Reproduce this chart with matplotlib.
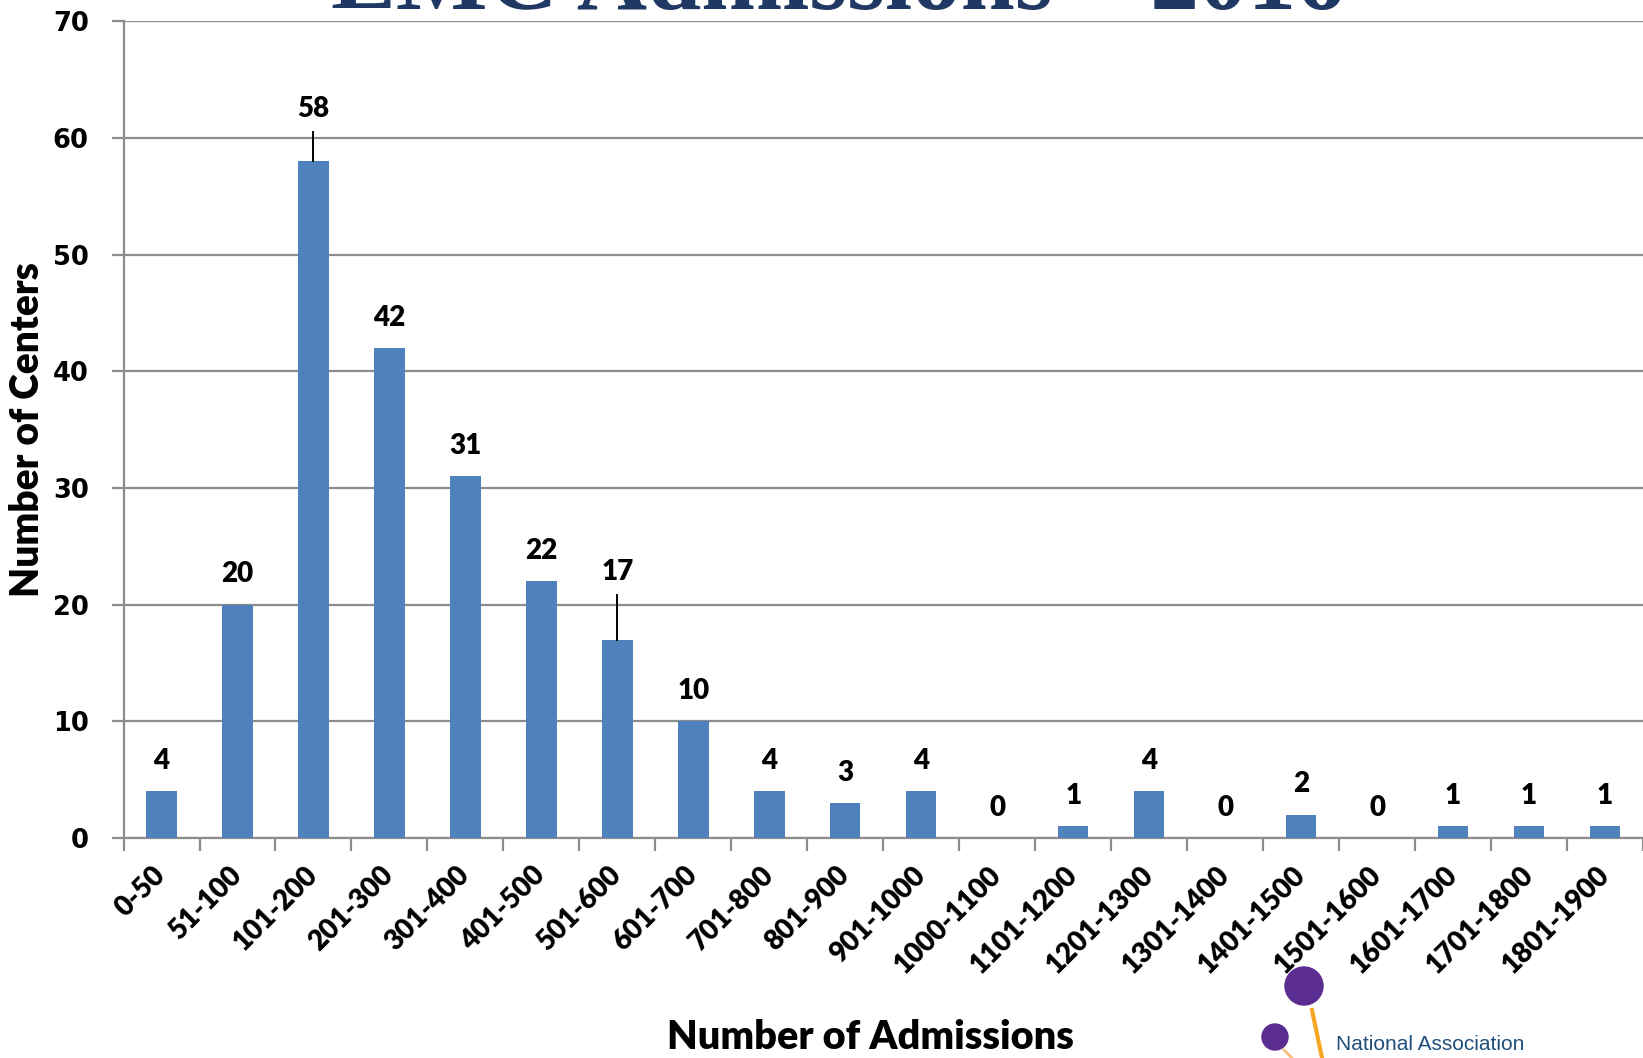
import numpy as np
import matplotlib.pyplot as plt
from matplotlib.patches import Ellipse
from matplotlib.lines import Line2D

# ranges of admissions per center
categories = ["0-50", "51-100", "101-200", "201-300", "301-400", "401-500",
              "501-600", "601-700", "701-800", "801-900", "901-1000", "1000-1100",
              "1101-1200", "1201-1300", "1301-1400", "1401-1500", "1501-1600",
              "1601-1700", "1701-1800", "1801-1900"]
centers = [4, 20, 58, 42, 31, 22, 17, 10, 4, 3, 4, 0, 1, 4, 0, 2, 0, 1, 1, 1]
# labels that were dragged up with a leader line: index -> label height
moved_labels = {2: 62.5, 6: 22.8}

BAR = "#4F81BD"
GRID = "#8C8C8C"
W, H = 1643, 1058

fig = plt.figure(figsize=(W / 100, H / 100), dpi=100)
ax = fig.add_axes([0.0752, 0.208, 0.9248, 0.772])

x = np.arange(len(categories))
ax.bar(x, centers, width=0.4, color=BAR, zorder=3)

ax.set_xlim(-0.5, len(categories) - 0.5)
ax.set_ylim(0, 70)
ax.set_yticks(range(0, 71, 10))
ax.yaxis.grid(True, color=GRID, linewidth=1.6, zorder=0)

# x ticks sit on the category boundaries, labels under the bars
ax.set_xticks(np.arange(-0.5, len(categories), 1.0))
ax.set_xticklabels([])
ax.set_xticks(x, minor=True)
ax.set_xticklabels(categories, minor=True, rotation=45, ha="right",
                   va="center", rotation_mode="anchor", fontsize=20,
                   fontweight="heavy", family="Lato")
ax.tick_params(axis="x", which="minor", length=0, pad=24)
ax.tick_params(axis="x", which="major", length=9, width=1.6, color=GRID)
ax.tick_params(axis="y", length=9, width=1.6, color=GRID, pad=16)
for lab in ax.get_yticklabels():
    lab.set_fontweight("bold")
    lab.set_fontsize(18.5)
    lab.set_family("DejaVu Sans")

for s in ["top", "right"]:
    ax.spines[s].set_visible(False)
for s in ["left", "bottom"]:
    ax.spines[s].set_color(GRID)
    ax.spines[s].set_linewidth(1.6)

# value labels
for i, v in enumerate(centers):
    if i in moved_labels:
        ly = moved_labels[i]
        ax.text(i, ly, str(v), ha="center", va="center", fontsize=20,
                fontweight="heavy", family="Lato", zorder=4)
        ax.plot([i, i], [v, ly - 2.0], color="black", linewidth=1.4, zorder=4)
    else:
        ax.text(i, v + 2.6, str(v), ha="center", va="center", fontsize=20,
                fontweight="heavy", family="Lato", zorder=4)

ax.set_ylabel("Number of Centers", fontsize=28, fontweight="heavy",
              family="Lato")
ax.yaxis.set_label_coords(-0.051, 0.5)
fig.text(0.53, 0.019, "Number of Admissions", ha="center", va="center",
         fontsize=28.5, fontweight="heavy", family="Lato")

# slide title, mostly cut off at the top edge
fig.text(0.51, 0.9915, "EMC Admissions \u2013 2016", ha="center",
         va="baseline", fontsize=70, fontweight="bold",
         family="Liberation Serif", color="#1F3864")

# corner logo fragment
fig.patches.append(Ellipse((1304 / W, 1 - 986 / H), 38 / W, 38 / H,
                           transform=fig.transFigure, color="#5B2C91"))
fig.patches.append(Ellipse((1275 / W, 1 - 1037 / H), 26 / W, 26 / H,
                           transform=fig.transFigure, color="#5B2C91"))
fig.lines.append(Line2D([1312 / W, 1322 / W], [1 - 1010 / H, 0.0],
                        transform=fig.transFigure, color="#F5A623",
                        linewidth=3))
fig.lines.append(Line2D([1284 / W, 1292 / W], [1 - 1050 / H, 0.0],
                        transform=fig.transFigure, color="#F5C07A",
                        linewidth=2))
fig.text(1336 / W, 1 - 1045 / H, "National Association", ha="left",
         va="center", fontsize=15, color="#1F4E79", family="Liberation Sans")

plt.savefig("out.png", dpi=100)
